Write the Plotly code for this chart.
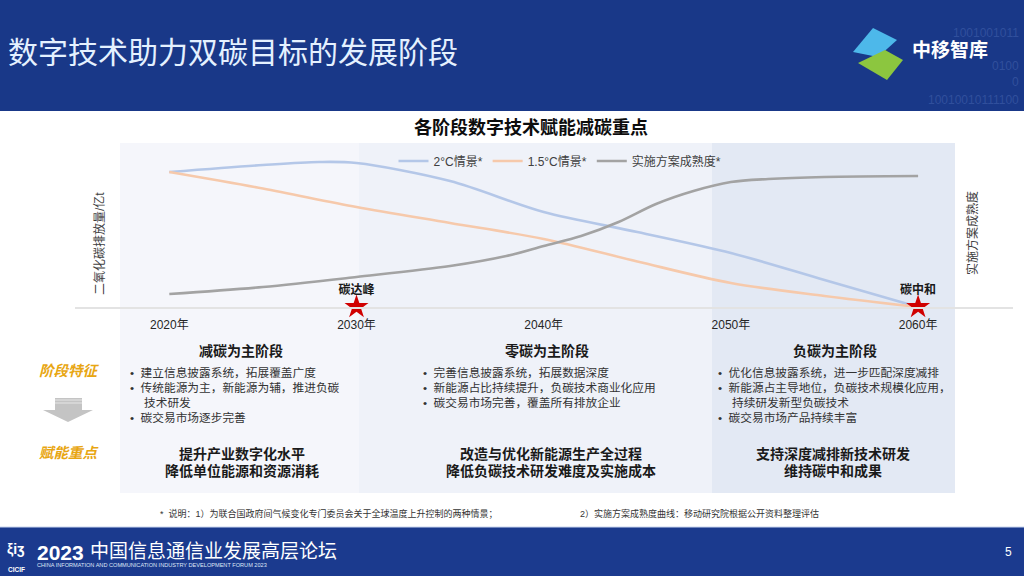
import plotly.graph_objects as go

# ---------------- data ----------------
years_2c = [2020, 2025, 2028, 2030, 2035, 2040, 2045, 2050, 2055, 2060]
emis_2c = [135, 142, 145, 144, 126, 95, 75, 54, 27, 0]

years_15c = [2020, 2025, 2030, 2035, 2040, 2045, 2050, 2055, 2060]
emis_15c = [135, 118.5, 100, 84, 68, 45.5, 24, 11, 0]

years_maturity = [2020, 2025, 2030, 2035, 2038, 2040, 2042, 2044, 2046, 2048, 2050, 2052, 2055, 2060]
maturity = [13, 20, 30, 41, 51, 61, 71, 85, 103, 116, 125, 128, 130, 131]

milestone_years = [2030, 2060]
milestone_values = [0, 0]
milestone_labels = ["碳达峰", "碳中和"]

tick_years = [2020, 2030, 2040, 2050, 2060]
tick_labels = ["2020年", "2030年", "2040年", "2050年", "2060年"]

series_names = ["2°C情景*", "1.5°C情景*", "实施方案成熟度*"]

stage_titles = ["减碳为主阶段", "零碳为主阶段", "负碳为主阶段"]
stage_bullets = [
    ["建立信息披露系统，拓展覆盖广度", "传统能源为主，新能源为辅，推进负碳", "技术研发", "碳交易市场逐步完善"],
    ["完善信息披露系统，拓展数据深度", "新能源占比持续提升，负碳技术商业化应用", "碳交易市场完善，覆盖所有排放企业"],
    ["优化信息披露系统，进一步匹配深度减排", "新能源占主导地位，负碳技术规模化应用，", "持续研发新型负碳技术", "碳交易市场产品持续丰富"],
]
stage_bullet_flags = [
    [True, True, False, True],
    [True, True, True],
    [True, True, False, True],
]
stage_focus = [
    ["提升产业数字化水平", "降低单位能源和资源消耗"],
    ["改造与优化新能源生产全过程", "降低负碳技术研发难度及实施成本"],
    ["支持深度减排新技术研发", "维持碳中和成果"],
]

# ---------------- helpers ----------------
W, H = 1024, 576
def px(x):
    return x / W
def py(y):
    return 1 - y / H

CJK = "Arial, 'Liberation Sans', 'Noto Sans CJK SC', sans-serif"

C_2C = "#b4c7e8"
C_15C = "#f6c9ab"
C_MAT = "#a3a3a3"
NAVY = "#193888"

fig = go.Figure()

fig.add_trace(go.Scatter(x=years_2c, y=emis_2c, mode="lines", name=series_names[0],
                         line=dict(color=C_2C, width=2.6, shape="spline", smoothing=0.9)))
fig.add_trace(go.Scatter(x=years_15c, y=emis_15c, mode="lines", name=series_names[1],
                         line=dict(color=C_15C, width=2.6, shape="spline", smoothing=0.9)))
fig.add_trace(go.Scatter(x=years_maturity, y=maturity, mode="lines", name=series_names[2], yaxis="y2",
                         line=dict(color=C_MAT, width=2.6, shape="spline", smoothing=0.9)))
fig.add_trace(go.Scatter(x=milestone_years, y=milestone_values, mode="markers", showlegend=False,
                         marker=dict(symbol="star", size=18, color="#d00000"),
                         cliponaxis=False))
fig.add_trace(go.Scatter(x=milestone_years, y=[v + 10 for v in milestone_values], mode="text", showlegend=False,
                         text=["<b>" + t + "</b>" for t in milestone_labels], textposition="top center",
                         textfont=dict(family=CJK, size=12, color="#1a1a1a"),
                         cliponaxis=False))

dom_x = [px(75), px(1013)]
x0 = 2020 + (75 - 169.3) / 18.72
x1 = 2020 + (1013 - 169.3) / 18.72

fig.update_layout(
    width=W, height=H,
    margin=dict(l=0, r=0, t=0, b=0),
    paper_bgcolor="white", plot_bgcolor="rgba(0,0,0,0)",
    font=dict(family=CJK, color="#404040"),
    xaxis=dict(domain=dom_x, range=[x0, x1], showgrid=False, zeroline=False,
               showline=True, linecolor="#e3e3e3", linewidth=2,
               tickmode="array", tickvals=tick_years, ticktext=tick_labels,
               ticks="", ticklabelstandoff=6,
               tickfont=dict(family=CJK, size=12, color="#262626")),
    yaxis=dict(domain=[py(307), py(143)], range=[0, 164], visible=False),
    yaxis2=dict(domain=[py(307), py(143)], range=[0, 164], visible=False,
                overlaying="y", side="right"),
    legend=dict(orientation="h", x=px(560), xanchor="center", y=py(161), yanchor="middle",
                bgcolor="rgba(0,0,0,0)", font=dict(family=CJK, size=12, color="#404040"),
                itemwidth=30, tracegroupgap=0),
    showlegend=True,
)

shapes = []
shapes.append(dict(type="rect", xref="paper", yref="paper", x0=0, x1=1, y0=py(111), y1=1,
                   fillcolor=NAVY, line=dict(width=0), layer="below"))
shapes.append(dict(type="rect", xref="paper", yref="paper", x0=0, x1=1, y0=0, y1=py(527),
                   fillcolor="#1b3a8e", line=dict(width=0), layer="below"))
shapes.append(dict(type="line", xref="paper", yref="paper", x0=0, x1=1, y0=py(527), y1=py(527),
                   line=dict(color="#c9d5ee", width=1), layer="below"))
panel_bounds = [(120, 359, "#f5f6fb"), (359, 712, "#eff2f9"), (712, 955, "#e3e9f4")]
for a, b, c in panel_bounds:
    shapes.append(dict(type="rect", xref="paper", yref="paper", x0=px(a), x1=px(b), y0=py(493), y1=py(143),
                       fillcolor=c, line=dict(width=0), layer="below"))
def path(pts):
    return "M " + " L ".join(f"{px(x):.5f},{py(y):.5f}" for x, y in pts) + " Z"
shapes.append(dict(type="path", xref="paper", yref="paper", path=path([(853, 52), (873, 28), (897, 40), (878, 57)]),
                   fillcolor="#4db8ea", line=dict(width=0)))
shapes.append(dict(type="path", xref="paper", yref="paper", path=path([(858, 63), (885, 50), (903, 60), (887, 80)]),
                   fillcolor="#8cc63f", line=dict(width=0)))
shapes.append(dict(type="path", xref="paper", yref="paper",
                   path=path([(55, 398), (82, 398), (82, 410), (93, 410), (68, 422), (43, 410), (55, 410)]),
                   fillcolor="#c4c4c4", line=dict(width=0)))
for yy in (400, 403):
    shapes.append(dict(type="line", xref="paper", yref="paper", x0=px(55), x1=px(82), y0=py(yy), y1=py(yy),
                       line=dict(color="#e6e6e6", width=1)))
fig.update_layout(shapes=shapes)

ann = []
def text(x, y, s, size=12, color="#404040", xanchor="center", bold=False, italic=False, angle=0, family=CJK):
    if bold:
        s = "<b>" + s + "</b>"
    if italic:
        s = "<i>" + s + "</i>"
    ann.append(dict(x=px(x), y=py(y), xref="paper", yref="paper", text=s, showarrow=False,
                    xanchor=xanchor, yanchor="middle", textangle=angle,
                    font=dict(family=family, size=size, color=color)))

# header
text(6, 53, "数字技术助力双碳目标的发展阶段", size=30, color="#e4f1ff", xanchor="left")
text(950, 51, "中移智库", size=19, color="white", bold=True)
for (x, y, s) in [(1021, 33, "1001001011"), (1021, 66, "0100"), (1021, 82, "0"), (1021, 100, "10010010111100")]:
    text(x, y, s, size=12, color="rgba(70,100,175,0.55)", xanchor="right")

# chart title and axis titles
text(531, 127, "各阶段数字技术赋能减碳重点", size=18, color="#0d0d0d", bold=True)
text(99, 244, "二氧化碳排放量/亿t", size=12, color="#404040", angle=-90)
text(973, 233, "实施方案成熟度", size=12, color="#404040", angle=-90)

# left side labels
text(69, 371, "阶段特征", size=14.5, color="#e8a612", bold=True, italic=True)
text(69, 453, "赋能重点", size=14.5, color="#e8a612", bold=True, italic=True)

# stage panels text
title_x = [241, 547, 835]
bullet_x = [128, 421, 716]
focus_x = [242, 551, 833]
for i in range(3):
    text(title_x[i], 351, stage_titles[i], size=14, color="#1a1a1a", bold=True)
    for j, (line, flag) in enumerate(zip(stage_bullets[i], stage_bullet_flags[i])):
        prefix = "•  " if flag else ""
        xx = bullet_x[i] if flag else bullet_x[i] + 14
        text(xx, 372.5 + 15 * j, prefix + line, size=11.7, color="#333333", xanchor="left")
    for j, line in enumerate(stage_focus[i]):
        text(focus_x[i], 454 + 17 * j, line, size=14, color="#1a1a1a", bold=True)

# footnote
text(158, 513, "*  说明：1）为联合国政府间气候变化专门委员会关于全球温度上升控制的两种情景；", size=9, color="#333333", xanchor="left")
text(578, 513, "2）实施方案成熟度曲线：移动研究院根据公开资料整理评估", size=9, color="#333333", xanchor="left")

# footer
text(35, 552, "2023", size=21, color="white", xanchor="left", bold=True)
text(88, 551, "中国信息通信业发展高层论坛", size=19, color="white", xanchor="left")
text(35, 565, "CHINA INFORMATION AND COMMUNICATION INDUSTRY DEVELOPMENT FORUM 2023", size=5.6, color="#dfe7f7", xanchor="left")
text(16, 549, "ξiʒ", size=14, color="white", bold=True)
text(16, 569, "CICIF", size=6.5, color="white", bold=True)
text(1008, 552, "5", size=12, color="white")

fig.update_layout(annotations=ann)

fig.write_html("out.html", config={"displayModeBar": False},
               post_script="document.body.style.margin='0px';document.body.style.overflow='hidden';")
